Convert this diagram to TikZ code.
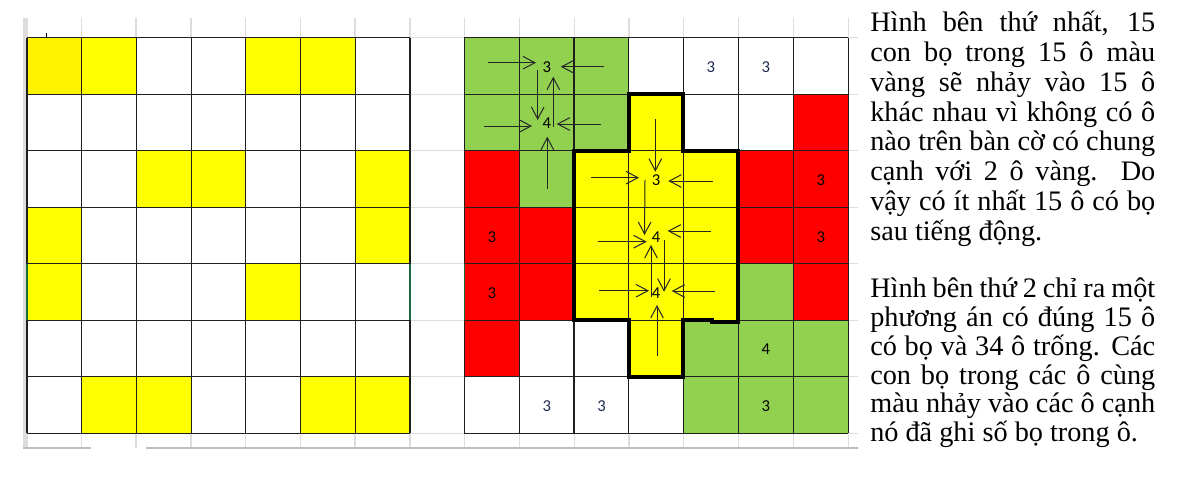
\documentclass[tikz,border=0pt]{standalone}
\usepackage{fontspec}
\setmainfont{Liberation Serif}
\newfontfamily\numfont{Carlito}
\usetikzlibrary{arrows.meta}
\definecolor{cyel}{HTML}{FFFF00}
\definecolor{cyeltwo}{HTML}{FFF200}
\definecolor{cgreen}{HTML}{92D050}
\definecolor{cred}{HTML}{FF0000}
\definecolor{csheet}{HTML}{DDDDDD}
\definecolor{cbar}{HTML}{BDBDBD}
\definecolor{cnavy}{HTML}{1F2A50}
\definecolor{csel}{HTML}{1E6B3C}
\newcommand\cellL[3]{\fill[#3] ({27+#1*54.71},{37.7+#2*56.51}) rectangle ++(54.71,56.51);}
\newcommand\cellR[3]{\fill[#3] ({464.3+#1*54.86},{37.7+#2*56.51}) rectangle ++(54.86,56.51);}
\begin{document}
\begin{tikzpicture}[x=0.75pt,y=-0.75pt,
  sheetline/.style={csheet,line width=0.9pt},
  cellline/.style={black!88,line width=0.85pt},
  thickline/.style={black,line width=3pt,line join=miter},
  arr/.style={black!85,line width=0.75pt,-{Straight Barb[length=9pt,width=9.5pt,line width=0.75pt]}},
  num/.style={font=\numfont\fontsize{12.5}{14}\selectfont,inner sep=0pt},
  txt/.style={anchor=base west,inner sep=0pt,font=\fontsize{21.2}{24}\selectfont}]
\useasboundingbox (0,0) rectangle (1177,479);
% spreadsheet background lines
\fill[csheet] (23,18) rectangle (26.5,448);
\foreach \x in {27,81.5,136,191,245.5,300.5,355,410,464.3,519.3,574.3,629,683.3,738.3,793.3,848.3}
  \draw[sheetline] (\x,18) -- (\x,448);
\foreach \k in {0,...,7}
  \draw[sheetline] (23,{37.7+\k*56.51}) -- (858,{37.7+\k*56.51});
\draw[cbar,line width=1.4pt] (23,448) -- (91,448);
\draw[cbar,line width=1.4pt] (146,448) -- (858,448);
% left grid cells
\fill[white] (27,37.7) rectangle (410,433.3);
\cellL{0}{0}{cyeltwo}\cellL{1}{0}{cyel}\cellL{4}{0}{cyel}\cellL{5}{0}{cyel}
\cellL{2}{2}{cyel}\cellL{3}{2}{cyel}\cellL{6}{2}{cyel}
\cellL{0}{3}{cyel}\cellL{6}{3}{cyel}
\cellL{0}{4}{cyel}\cellL{4}{4}{cyel}
\cellL{1}{6}{cyel}\cellL{2}{6}{cyel}\cellL{5}{6}{cyel}\cellL{6}{6}{cyel}
\foreach \i in {0,...,7} {
  \draw[cellline] ({27+\i*54.71},37.7) -- ++(0,395.6);
  \draw[cellline] (27,{37.7+\i*56.51}) -- ++(383,0);
}
\draw[csel,line width=0.9pt] (27,263.7) -- (27,320.3);
\draw[csel,line width=0.9pt] (410,263.7) -- (410,320.3);
\draw[black,line width=0.6pt] (46.3,33) -- (46.3,37.7);
% right grid cells
\fill[white] (464.3,37.7) rectangle (848.3,433.3);
\cellR{0}{0}{cgreen}\cellR{1}{0}{cgreen}\cellR{2}{0}{cgreen}
\cellR{0}{1}{cgreen}\cellR{1}{1}{cgreen}\cellR{2}{1}{cgreen}\cellR{3}{1}{cyel}\cellR{6}{1}{cred}
\cellR{0}{2}{cred}\cellR{1}{2}{cgreen}\cellR{2}{2}{cyel}\cellR{3}{2}{cyel}\cellR{4}{2}{cyel}\cellR{5}{2}{cred}\cellR{6}{2}{cred}
\cellR{0}{3}{cred}\cellR{1}{3}{cred}\cellR{2}{3}{cyel}\cellR{3}{3}{cyel}\cellR{4}{3}{cyel}\cellR{5}{3}{cred}\cellR{6}{3}{cred}
\cellR{0}{4}{cred}\cellR{1}{4}{cred}\cellR{2}{4}{cyel}\cellR{3}{4}{cyel}\cellR{4}{4}{cyel}\cellR{5}{4}{cgreen}\cellR{6}{4}{cred}
\cellR{0}{5}{cred}\cellR{3}{5}{cyel}\cellR{4}{5}{cgreen}\cellR{5}{5}{cgreen}\cellR{6}{5}{cgreen}
\cellR{4}{6}{cgreen}\cellR{5}{6}{cgreen}\cellR{6}{6}{cgreen}
\foreach \i in {0,...,7} {
  \draw[cellline] ({464.3+\i*54.86},37.7) -- ++(0,395.6);
  \draw[cellline] (464.3,{37.7+\i*56.51}) -- ++(384,0);
}
\draw[csel,line width=0.9pt] (464.3,263.7) -- (464.3,320.3);
% thick outline of the yellow region
\draw[thickline] (629,94.3) -- (683.3,94.3) -- (683.3,151) -- (738.3,151) -- (738.3,322)
  -- (711.7,322) -- (711.7,319.5) -- (683.3,319.5) -- (683.3,376.7) -- (629,376.7)
  -- (629,320.3) -- (574.3,320.3) -- (574.3,151) -- (629,151) -- cycle;
% numbers
\node[num] (g3) at (546.8,67) {3};
\node[num] (g4) at (546.8,123.5) {4};
\node[num] (y3) at (656,180.4) {3};
\node[num] (y4a) at (656,237) {4};
\node[num] (y4b) at (656,293) {4};
\node[num,text=cnavy] (w1) at (710.8,67) {3};
\node[num,text=cnavy] (w2) at (765.8,67) {3};
\node[num] (r1) at (820.8,180.4) {3};
\node[num] (r2) at (491.8,237) {3};
\node[num] (r3) at (820.8,237) {3};
\node[num] (r4) at (491.8,293) {3};
\node[num] (q1) at (765.8,349.5) {4};
\node[num,text=cnavy] (w3) at (546.8,406) {3};
\node[num,text=cnavy] (w4) at (601.7,406) {3};
\node[num] (q2) at (765.8,406) {3};
% arrows
\draw[arr] (488,62.7) -- (536,62.7);
\draw[arr] (604,66.7) -- (560.7,66.7);
\draw[arr] (537.7,70) -- (537.7,120);
\draw[arr] (553.3,126.7) -- (553.3,76.7);
\draw[arr] (484,126) -- (532,126);
\draw[arr] (600.7,124) -- (556.7,124);
\draw[arr] (547.3,189) -- (547.3,136.7);
\draw[arr] (655.3,119) -- (655.3,171.7);
\draw[arr] (591.3,177.7) -- (639,177.7);
\draw[arr] (712.7,181) -- (668.3,181);
\draw[arr] (645,180) -- (644.5,235);
\draw[arr] (597.7,241.7) -- (646.7,241.7);
\draw[arr] (711,231) -- (667.7,231);
\draw[arr] (651,296.7) -- (651,245);
\draw[arr] (664,240) -- (664,291.7);
\draw[arr] (599.3,290.7) -- (649,290.7);
\draw[arr] (715,291) -- (671.7,291);
\draw[arr] (657,356) -- (657,305);
% text
\node[txt] (a1) at (870,31.7) {\makebox[213.75pt][s]{Hình bên thứ nhất, 15}};
\node[txt] (a2) at (870,61.5) {\makebox[213.75pt][s]{con bọ trong 15 ô màu}};
\node[txt] (a3) at (870,91.2) {\makebox[213.75pt][s]{vàng sẽ nhảy vào 15 ô}};
\node[txt] (a4) at (870,121) {\makebox[213.75pt][s]{khác nhau vì không có ô}};
\node[txt] (a5) at (870,150.7) {\makebox[213.75pt][s]{nào trên bàn cờ có chung}};
\node[txt] (a6) at (870,180.5) {\makebox[213.75pt][s]{cạnh với 2 ô vàng.\ \ Do}};
\node[txt] (a7) at (870,210.2) {\makebox[213.75pt][s]{vậy có ít nhất 15 ô có bọ}};
\node[txt] (a8) at (870,240) {sau tiếng động.};
\node[txt] (b1) at (870,297.3) {\makebox[213.75pt][s]{Hình bên thứ 2 chỉ ra một}};
\node[txt] (b2) at (870,326.2) {\makebox[213.75pt][s]{phương án có đúng 15 ô}};
\node[txt] (b3) at (870,355.1) {\makebox[213.75pt][s]{có bọ và 34 ô trống. Các}};
\node[txt] (b4) at (870,384) {\makebox[213.75pt][s]{con bọ trong các ô cùng}};
\node[txt] (b5) at (870,412.9) {\makebox[213.75pt][s]{màu nhảy vào các ô cạnh}};
\node[txt] (b6) at (870,441.7) {nó đã ghi số bọ trong ô.};
\end{tikzpicture}
\end{document}
